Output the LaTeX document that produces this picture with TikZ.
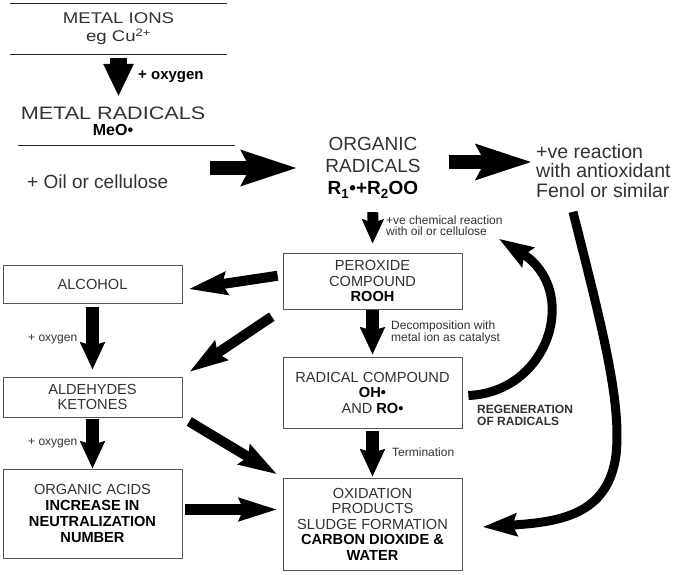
\documentclass[tikz,border=0pt]{standalone}
\usepackage{fontspec}
\setmainfont{Liberation Sans}
\newfontfamily\widesans[FakeStretch=1.2]{Liberation Sans}
\usepackage{xcolor}
\usepackage{tikz}
\usetikzlibrary{positioning,arrows.meta}
\definecolor{ink}{RGB}{50,50,50}
\definecolor{edge}{RGB}{85,85,85}
\newcommand{\fsz}[2]{\fontsize{#1}{#2}\selectfont}

\begin{document}
\begin{tikzpicture}[x=1pt, y=-1pt,
		box/.style={draw=edge, line width=0.8pt, minimum width=179pt, align=center,
		            inner sep=2pt, text=ink, font=\fsz{14.6}{15.5}},
		title/.style={align=center, text=ink, inner sep=0pt, font=\widesans\fsz{15.5}{18}},
		big/.style={align=center, text=ink, inner sep=0pt, font=\fsz{19}{22}},
		note/.style={align=left, text=ink, inner sep=0pt, font=\fsz{12}{12}},
		rule/.style={draw=black!85, line width=1pt},
		toparrow/.style={line width=17pt, -{Triangle[length=33pt,width=28pt]}},
		bigarrow/.style={line width=14pt, -{Stealth[length=55pt,width=34pt,inset=8pt]}},
		fatarrow/.style={line width=13pt, -{Stealth[length=27pt,width=24pt,inset=3pt]}},
		slantarrow/.style={line width=10pt, -{Stealth[length=38pt,width=22pt,inset=4pt]}},
		curvearrow/.style={line width=9pt, -{Stealth[length=34pt,width=22pt,inset=4pt]}}]
		\fill[white] (0,0) rectangle (685,574);
		\useasboundingbox (0,0) rectangle (685,574);

		\node[title, minimum width=217pt, minimum height=50pt] (metal) at (118.5,29)
			{METAL IONS\\eg Cu\textsuperscript{2+}};
		\draw[rule] (metal.north west) -- (metal.north east);
		\draw[rule] (metal.south west) -- (metal.south east);
		\node[title, minimum height=48pt, font=\widesans\fsz{18}{16}] (metrad) at (113,121)
			{METAL RADICALS\\{\normalfont\fsz{16}{16}\bfseries\color{black}MeO•}};
		\draw[rule] (18,145) -- (235,145);
		\node[anchor=west, inner sep=0pt, font=\fsz{15}{15}\bfseries] (oxytop) at (138,77) {+ oxygen};
		\draw[toparrow, shorten <=4pt] (metal.south) -- (metal.south |- metrad.north);

		\node[big, anchor=west] (oil) at (27,182) {+ Oil or cellulose};
		\node[big, minimum width=151pt, minimum height=80pt] (organic) at (373,168)
			{ORGANIC\\RADICALS\\\textbf{\color{black}R\textsubscript{1}•+R\textsubscript{2}OO}};
		\node[big, anchor=west, align=left, inner sep=4pt, font=\fsz{19.5}{19.5}] (fenol) at (532,171)
			{+ve reaction\\with antioxidant\\Fenol or similar};
		\draw[bigarrow, shorten <=42pt] (oil.east |- organic.west) -- (organic.west);
		\draw[bigarrow] ([yshift=6pt]organic.east) -- ([yshift=6pt]organic.east -| fenol.west);

		\node[box, minimum height=56pt] (peroxide) at (372.5,281) {PEROXIDE\\COMPOUND\\\textbf{\color{black}ROOH}};
		\node[box, minimum height=71pt] (radical) at (372.5,392.5)
			{RADICAL COMPOUND\\\textbf{\color{black}OH•}\\AND \textbf{\color{black}RO•}};
		\node[box, minimum height=92pt] (oxidation) at (372.5,524)
			{OXIDATION\\PRODUCTS\\SLUDGE FORMATION\\\textbf{\color{black}CARBON DIOXIDE \&}\\\textbf{\color{black}WATER}};
		\node[box, minimum height=38pt] (alcohol) at (92.5,284) {ALCOHOL};
		\node[box, minimum height=40pt] (aldehydes) at (92.5,397) {ALDEHYDES\\KETONES};
		\node[box, minimum height=89pt, font=\fsz{14.6}{16.3}] (acids) at (92.5,513.5)
			{ORGANIC ACIDS\\\textbf{\color{black}INCREASE IN}\\\textbf{\color{black}NEUTRALIZATION}\\\textbf{\color{black}NUMBER}};

		\node[note, anchor=north west, font=\fsz{12}{10.5}] (chemlbl) at (386,216)
			{+ve chemical reaction\\with oil or cellulose};
		\node[note, anchor=west] (decomp) at (391,332) {Decomposition with\\metal ion as catalyst};
		\node[note, anchor=west] (termlbl) at (392,452) {Termination};
		\node[note, anchor=west, font=\fsz{12}{12}\bfseries] (regenlbl) at (477,415) {REGENERATION\\OF RADICALS};
		\node[note, anchor=west] (oxya) at (28,339) {+ oxygen};
		\node[note, anchor=west] (oxyb) at (28,443) {+ oxygen};

		\draw[fatarrow, -{Stealth[length=24pt,width=21pt,inset=3pt]}, line width=11pt,
			shorten <=4pt, shorten >=9pt] (organic.south) -- (peroxide.north);
		\draw[fatarrow, shorten <=1pt, shorten >=2pt] (peroxide.south) -- (radical.north);
		\draw[fatarrow, shorten <=3pt, shorten >=1pt] (radical.south) -- (oxidation.north);
		\draw[fatarrow, shorten <=4pt, shorten >=7pt] (alcohol.south) -- (aldehydes.north);
		\draw[fatarrow, shorten <=2pt] (aldehydes.south) -- (acids.north);
		\draw[slantarrow, shorten <=5pt, shorten >=6pt] ([yshift=6pt]peroxide.west) -- ([yshift=-6pt]alcohol.east);
		\draw[slantarrow, shorten <=13pt, shorten >=8pt] (peroxide.south west) -- (aldehydes.north east);
		\draw[slantarrow, shorten <=8pt, shorten >=6pt] (aldehydes.south east) -- (oxidation.north west);
		\draw[slantarrow, line width=11pt, shorten <=3pt, shorten >=5pt]
			([yshift=4pt]acids.east) -- ([yshift=4pt]acids.east -| oxidation.west);

		\draw[curvearrow] ([shift={(6pt,-3pt)}]radical.east) .. controls (550,392) and (580,290)
			.. ([shift={(-4pt,-3pt)}]chemlbl.south east);
		\draw[curvearrow] ([shift={(41pt,-10pt)}]fenol.south west) .. controls (600,320) and (622,400)
			.. (616,455) .. controls (608,515) and (560,522) .. ([shift={(20pt,-3pt)}]oxidation.east);
	\end{tikzpicture}
\end{document}
